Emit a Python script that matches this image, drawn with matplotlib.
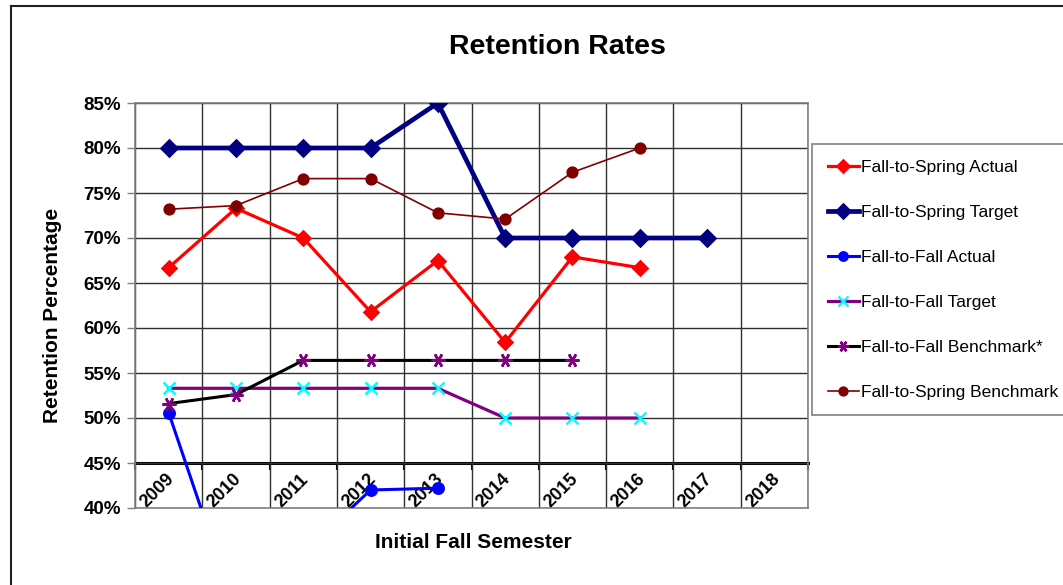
import numpy as np
import matplotlib
matplotlib.use('Agg')
from matplotlib import pyplot as plt
from matplotlib.lines import Line2D

plt.rcParams['font.family'] = ['Liberation Sans', 'DejaVu Sans']

# data (retention in percent), None = no value
years = ['2009', '2010', '2011', '2012', '2013', '2014', '2015', '2016', '2017', '2018']
fs_actual = [66.7, 73.3, 70.0, 61.8, 67.5, 58.4, 67.9, 66.7, None, None]
fs_target = [80.0, 80.0, 80.0, 80.0, 85.0, 70.0, 70.0, 70.0, 70.0, None]
ff_actual = [50.6, 28.5, 35.0, 42.0, 42.2, None, None, None, None, None]
ff_target = [53.3, 53.3, 53.3, 53.3, 53.3, 50.0, 50.0, 50.0, None, None]
ff_benchmark = [51.6, 52.6, 56.4, 56.4, 56.4, 56.4, 56.4, None, None, None]
fs_benchmark = [73.2, 73.6, 76.6, 76.6, 72.8, 72.1, 77.3, 80.0, None, None]

y_ticks = [40, 45, 50, 55, 60, 65, 70, 75, 80, 85]


def to_arr(values):
    return np.array([np.nan if v is None else v for v in values], dtype=float)


def main():
    fig = plt.figure(figsize=(10.63, 5.85), dpi=100)
    ax = fig.add_axes([135 / 1063, 1 - 508 / 585, 673 / 1063, 405 / 585])
    x = np.arange(len(years))

    # series: label, values, line colour, line width, marker, marker size, marker colour
    series = [
        ('Fall-to-Spring Actual', fs_actual, '#FF0000', 2.3, 'D', 7.5, '#FF0000'),
        ('Fall-to-Spring Target', fs_target, '#000080', 3.4, 'D', 8.5, '#000080'),
        ('Fall-to-Fall Actual', ff_actual, '#0000FF', 2.2, 'o', 7.5, '#0000FF'),
        ('Fall-to-Fall Target', ff_target, '#800080', 2.3, 'x', 9, '#00FFFF'),
        ('Fall-to-Fall Benchmark*', ff_benchmark, '#000000', 2.2, (6, 2, 90), 10, '#800080'),
        ('Fall-to-Spring Benchmark', fs_benchmark, '#800000', 1.2, 'o', 7, '#800000'),
    ]
    for label, vals, col, lw, mk, ms, mcol in series:
        ax.plot(x, to_arr(vals), color=col, lw=lw, marker=mk, ms=ms,
                markerfacecolor=mcol, markeredgecolor=mcol, markeredgewidth=1.8,
                label=label, zorder=3)

    ax.set_xlim(-0.5, len(years) - 0.5)
    ax.set_ylim(40, 85)
    ax.set_yticks(y_ticks)
    ax.set_yticklabels([f'{t}%' for t in y_ticks], fontsize=13.5, fontweight='bold')
    ax.set_xticks(np.arange(len(years) + 1) - 0.5)
    ax.tick_params(axis='x', length=0, labelbottom=False)
    ax.tick_params(axis='y', direction='out', length=6, width=1, color='#808080', pad=4)
    ax.grid(True, color='#303030', lw=1)
    for s in ax.spines.values():
        s.set_color('#808080')
        s.set_linewidth(1.2)

    # category axis crosses at 45%
    sec = ax.secondary_xaxis(5 / 45)
    sec.set_xticks(np.arange(len(years) + 1) - 0.5)
    sec.tick_params(axis='x', direction='out', length=5, width=1.5, labelbottom=False)
    sec.spines['bottom'].set_linewidth(2.2)
    sec.spines['bottom'].set_color('black')

    for i, yr in enumerate(years):
        ax.text(i - 0.17, 41.9, yr, rotation=45, ha='center', va='center',
                fontsize=13, fontweight='bold', zorder=2)

    fig.text(53 / 1063, 1 - 315 / 585, 'Retention Percentage', rotation=90, ha='center',
             va='center', fontsize=15, fontweight='bold')
    fig.text(473 / 1063, 1 - 543 / 585, 'Initial Fall Semester', ha='center', va='center',
             fontsize=15, fontweight='bold')
    fig.text(557 / 1063, 1 - 47 / 585, 'Retention Rates', ha='center', va='center',
             fontsize=20.5, fontweight='bold')

    leg = fig.legend(loc='upper left', bbox_to_anchor=(812 / 1063, 1 - 144 / 585),
                     bbox_transform=fig.transFigure, borderaxespad=0, fontsize=12.5,
                     labelspacing=1.72, handlelength=1.8, handletextpad=0.15,
                     borderpad=0.9, fancybox=False, framealpha=1, edgecolor='#808080',
                     markerscale=0.8)
    leg.get_frame().set_linewidth(1.2)

    # outer chart border (left and top visible)
    fig.add_artist(Line2D([11 / 1063, 11 / 1063], [0, 1 - 6 / 585], color='#202020', lw=1.5,
                          transform=fig.transFigure))
    fig.add_artist(Line2D([11 / 1063, 1], [1 - 6 / 585, 1 - 6 / 585], color='#202020', lw=1.5,
                          transform=fig.transFigure))

    fig.savefig('out.png', dpi=100)


if __name__ == "__main__":
    main()
